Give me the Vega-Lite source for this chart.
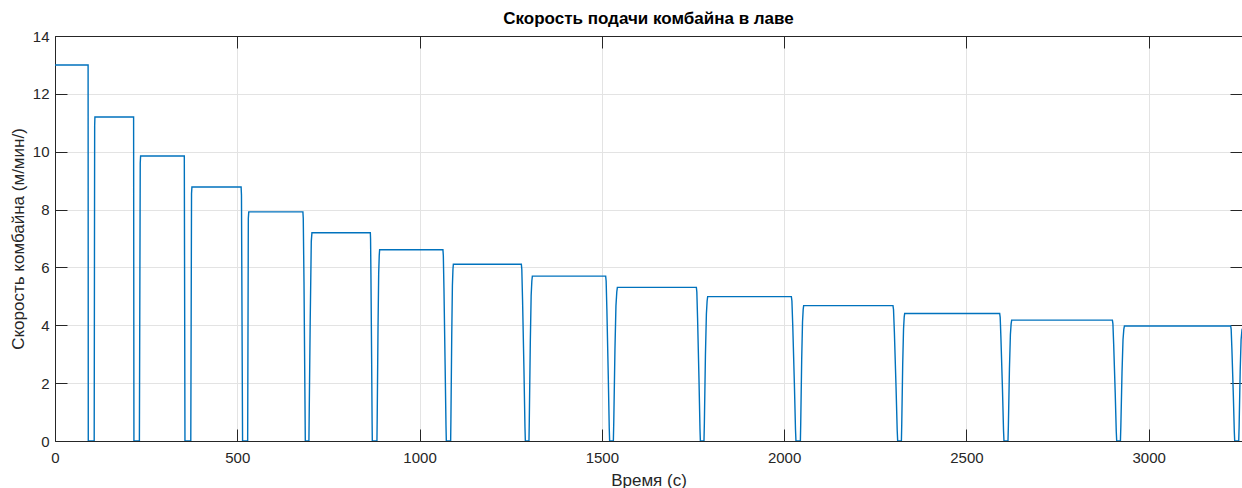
{
  "$schema": "https://vega.github.io/schema/vega-lite/v6.json",
  "width": 1187,
  "height": 405,
  "autosize": {"type": "none"},
  "padding": {"left": 55, "top": 36, "right": 0, "bottom": 47},
  "background": "white",
  "title": {"text": "Скорость подачи комбайна в лаве", "font": "Liberation Sans", "fontSize": 17, "fontWeight": "bold", "color": "#000000", "offset": 1, "anchor": "middle"},
  "config": {
    "view": {"stroke": null},
    "axis": {"labelFont": "Liberation Sans", "titleFont": "Liberation Sans", "labelColor": "#262626", "titleColor": "#262626", "domainColor": "#262626", "tickColor": "#262626", "labelFontSize": 15, "titleFontSize": 17, "titleFontWeight": "normal", "gridColor": "#e3e3e3", "gridOpacity": 1}
  },
  "data": {"values": [
    {"t": 0, "v": 13}, {"t": 90.8, "v": 13}, {"t": 91.3, "v": 0}, {"t": 107.5, "v": 0}, {"t": 108.8, "v": 10.9}, {"t": 109.5, "v": 11.2},
    {"t": 215.6, "v": 11.2}, {"t": 216.5, "v": 0}, {"t": 231.5, "v": 0}, {"t": 233.8, "v": 9.6}, {"t": 234.8, "v": 9.85},
    {"t": 354.7, "v": 9.85}, {"t": 356.5, "v": 0}, {"t": 372.5, "v": 0}, {"t": 374.5, "v": 8.55}, {"t": 375.6, "v": 8.78},
    {"t": 510.5, "v": 8.78}, {"t": 511.5, "v": 8.5}, {"t": 514.5, "v": 0}, {"t": 528.5, "v": 0}, {"t": 530.3, "v": 7.7}, {"t": 531.5, "v": 7.92},
    {"t": 680, "v": 7.92}, {"t": 681, "v": 7.7}, {"t": 683, "v": 5.5}, {"t": 686.6, "v": 0}, {"t": 696.5, "v": 0}, {"t": 700, "v": 4.1}, {"t": 703, "v": 6.9}, {"t": 704.8, "v": 7.2},
    {"t": 865, "v": 7.2}, {"t": 865.6, "v": 6.98}, {"t": 866.6, "v": 5.76}, {"t": 868.5, "v": 2.88}, {"t": 869.9, "v": 0.58}, {"t": 870.4, "v": 0},
    {"t": 883.1, "v": 0}, {"t": 883.8, "v": 0.79}, {"t": 886.1, "v": 3.97}, {"t": 887.9, "v": 5.82}, {"t": 889.4, "v": 6.41}, {"t": 890.5, "v": 6.61},
    {"t": 1064.1, "v": 6.61}, {"t": 1065.2, "v": 6.41}, {"t": 1066.9, "v": 5.29}, {"t": 1070.1, "v": 2.64}, {"t": 1072.5, "v": 0.53}, {"t": 1073.4, "v": 0},
    {"t": 1085.3, "v": 0}, {"t": 1086.0, "v": 0.73}, {"t": 1088.3, "v": 3.67}, {"t": 1090.1, "v": 5.38}, {"t": 1091.6, "v": 5.93}, {"t": 1092.7, "v": 6.11},
    {"t": 1279.2, "v": 6.11}, {"t": 1280.5, "v": 5.93}, {"t": 1282.5, "v": 4.89}, {"t": 1286.4, "v": 2.44}, {"t": 1289.1, "v": 0.49}, {"t": 1290.2, "v": 0},
    {"t": 1300.1, "v": 0}, {"t": 1301.0, "v": 0.68}, {"t": 1303.8, "v": 3.42}, {"t": 1306.1, "v": 5.02}, {"t": 1308.0, "v": 5.53}, {"t": 1309.4, "v": 5.7},
    {"t": 1510.5, "v": 5.7}, {"t": 1511.8, "v": 5.53}, {"t": 1513.8, "v": 4.56}, {"t": 1517.6, "v": 2.28}, {"t": 1520.3, "v": 0.46}, {"t": 1521.4, "v": 0},
    {"t": 1531.6, "v": 0}, {"t": 1532.7, "v": 0.64}, {"t": 1536.0, "v": 3.19}, {"t": 1538.7, "v": 4.67}, {"t": 1541.0, "v": 5.15}, {"t": 1542.6, "v": 5.31},
    {"t": 1759.3, "v": 5.31}, {"t": 1760.6, "v": 5.15}, {"t": 1762.6, "v": 4.25}, {"t": 1766.5, "v": 2.12}, {"t": 1769.2, "v": 0.42}, {"t": 1770.3, "v": 0},
    {"t": 1780.2, "v": 0}, {"t": 1781.2, "v": 0.6}, {"t": 1784.2, "v": 2.99}, {"t": 1786.8, "v": 4.39}, {"t": 1788.8, "v": 4.84}, {"t": 1790.3, "v": 4.99},
    {"t": 2019.9, "v": 4.99}, {"t": 2021.4, "v": 4.84}, {"t": 2023.7, "v": 3.99}, {"t": 2028.1, "v": 2.0}, {"t": 2031.2, "v": 0.4}, {"t": 2032.5, "v": 0},
    {"t": 2044.6, "v": 0}, {"t": 2045.5, "v": 0.56}, {"t": 2048.2, "v": 2.81}, {"t": 2050.5, "v": 4.12}, {"t": 2052.3, "v": 4.54}, {"t": 2053.6, "v": 4.68},
    {"t": 2298.6, "v": 4.68}, {"t": 2300.1, "v": 4.54}, {"t": 2302.5, "v": 3.74}, {"t": 2307.0, "v": 1.87}, {"t": 2310.2, "v": 0.37}, {"t": 2311.5, "v": 0},
    {"t": 2321.7, "v": 0}, {"t": 2322.6, "v": 0.53}, {"t": 2325.3, "v": 2.65}, {"t": 2327.6, "v": 3.88}, {"t": 2329.4, "v": 4.28}, {"t": 2330.7, "v": 4.41},
    {"t": 2591.3, "v": 4.41}, {"t": 2592.7, "v": 4.28}, {"t": 2594.8, "v": 3.53}, {"t": 2599.0, "v": 1.76}, {"t": 2601.9, "v": 0.35}, {"t": 2603.1, "v": 0},
    {"t": 2614.1, "v": 0}, {"t": 2615.1, "v": 0.5}, {"t": 2618.1, "v": 2.51}, {"t": 2620.7, "v": 3.68}, {"t": 2622.7, "v": 4.05}, {"t": 2624.2, "v": 4.18},
    {"t": 2900.5, "v": 4.18}, {"t": 2901.9, "v": 4.05}, {"t": 2904.0, "v": 3.34}, {"t": 2908.2, "v": 1.67}, {"t": 2911.1, "v": 0.33}, {"t": 2912.3, "v": 0},
    {"t": 2922.5, "v": 0}, {"t": 2923.6, "v": 0.48}, {"t": 2926.9, "v": 2.39}, {"t": 2929.6, "v": 3.5}, {"t": 2931.8, "v": 3.86}, {"t": 2933.4, "v": 3.975},
    {"t": 3225, "v": 3.975}, {"t": 3226.3, "v": 3.86}, {"t": 3228.3, "v": 3.18}, {"t": 3232.2, "v": 1.59}, {"t": 3234.9, "v": 0.32}, {"t": 3236, "v": 0},
    {"t": 3247, "v": 0}, {"t": 3248, "v": 0.45}, {"t": 3251, "v": 2.4}, {"t": 3253.5, "v": 3.5}, {"t": 3256, "v": 3.85}, {"t": 3258, "v": 3.9}
  ]},
  "layer": [
    {
      "mark": {"type": "line", "color": "#0072BD", "strokeWidth": 1.4, "clip": true},
      "encoding": {
        "x": {"field": "t", "type": "quantitative", "sort": null, "scale": {"domain": [0, 3256], "nice": false, "zero": false},
              "axis": {"orient": "bottom", "title": "Время (с)", "format": "d", "values": [0, 500, 1000, 1500, 2000, 2500, 3000], "tickSize": -12, "labelPadding": 21, "titlePadding": 7, "grid": true, "labelFlush": false}},
        "y": {"field": "v", "type": "quantitative", "scale": {"domain": [0, 14], "nice": false},
              "axis": {"orient": "left", "title": "Скорость комбайна (м/мин/)", "format": "d", "values": [0, 2, 4, 6, 8, 10, 12, 14], "tickSize": -12, "labelPadding": 18, "titlePadding": 5, "grid": true}}
      }
    },
    {
      "mark": {"type": "line", "opacity": 0},
      "encoding": {
        "x": {"field": "t", "type": "quantitative", "sort": null,
              "axis": {"orient": "top", "title": null, "labels": false, "values": [0, 500, 1000, 1500, 2000, 2500, 3000], "tickSize": -12, "grid": false}},
        "y": {"field": "v", "type": "quantitative",
              "axis": {"orient": "right", "title": null, "labels": false, "values": [0, 2, 4, 6, 8, 10, 12, 14], "tickSize": -12, "grid": false}}
      }
    }
  ],
  "resolve": {"axis": {"x": "independent", "y": "independent"}}
}
